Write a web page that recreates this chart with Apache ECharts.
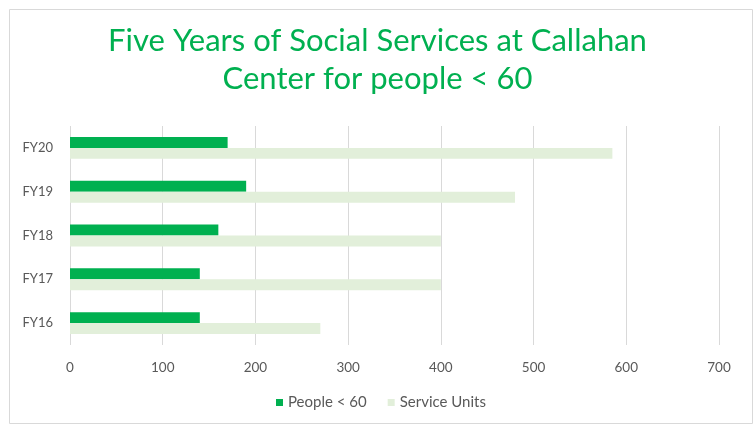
<!DOCTYPE html>
<html>
<head>
<meta charset="utf-8">
<script src="https://cdn.jsdelivr.net/npm/echarts@6/dist/echarts.min.js"></script>
<style>
html,body{margin:0;padding:0;background:#fff;}
#c{width:755px;height:425px;}
</style>
</head>
<body>
<div id="c"></div>
<script>
const categories = ['FY16', 'FY17', 'FY18', 'FY19', 'FY20'];
const peopleUnder60 = [140, 140, 160, 190, 170];
const serviceUnits = [270, 400, 400, 480, 585];
const xTicks = [0, 100, 200, 300, 400, 500, 600, 700];
const seriesNames = ['People < 60', 'Service Units'];

const chart = echarts.init(document.getElementById('c'), null, {renderer: 'canvas'});
const font = 'Lato, "Open Sans", sans-serif';
chart.setOption({
  animation: false,
  graphic: [{
    type: 'rect',
    shape: {x: 9.5, y: 9.5, width: 743, height: 414},
    style: {fill: 'none', stroke: '#d9d9d9', lineWidth: 1},
    silent: true
  }],
  title: {
    text: 'Five Years of Social Services at Callahan\nCenter for people < 60',
    left: 'center',
    top: 17,
    textStyle: {color: '#00B050', fontFamily: font, fontSize: 31, fontWeight: 'normal', lineHeight: 38}
  },
  legend: {
    data: seriesNames,
    top: 390,
    left: 271,
    itemWidth: 7,
    itemHeight: 7,
    itemGap: 21,
    icon: 'rect',
    textStyle: {color: '#595959', fontFamily: font, fontSize: 15}
  },
  grid: {left: 70, right: 36, top: 126, bottom: 80, containLabel: false},
  xAxis: {
    type: 'value',
    min: xTicks[0],
    max: xTicks[xTicks.length - 1],
    interval: 100,
    axisLine: {show: false},
    axisTick: {show: false},
    axisLabel: {color: '#595959', fontFamily: font, fontSize: 13.5, margin: 16},
    splitLine: {show: true, lineStyle: {color: '#d9d9d9', width: 1}}
  },
  yAxis: {
    type: 'category',
    data: categories,
    axisLine: {show: false},
    axisTick: {show: false},
    axisLabel: {color: '#595959', fontFamily: font, fontSize: 13, margin: 17}
  },
  series: [
    {
      name: seriesNames[0],
      type: 'bar',
      data: peopleUnder60,
      itemStyle: {color: '#00B050'},
      barGap: '0%',
      barCategoryGap: '50%'
    },
    {
      name: seriesNames[1],
      type: 'bar',
      data: serviceUnits,
      itemStyle: {color: '#E2EFDA'},
      barGap: '0%',
      barCategoryGap: '50%'
    }
  ]
});
</script>
</body>
</html>
